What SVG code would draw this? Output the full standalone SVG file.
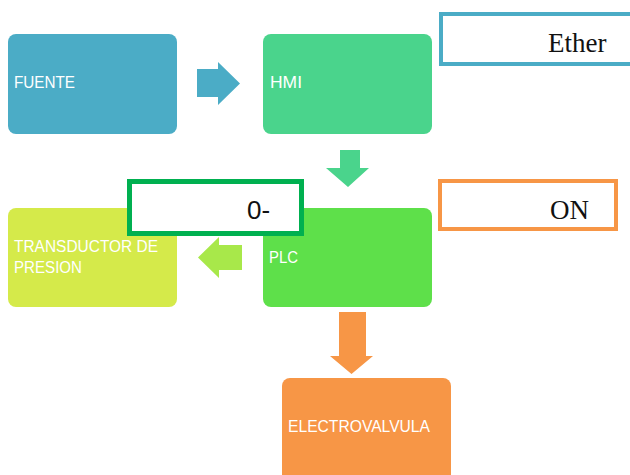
<svg xmlns="http://www.w3.org/2000/svg" width="630" height="475" viewBox="0 0 630 475">
<style>
.lbl{font-family:"Liberation Sans",Arial,sans-serif;font-size:16px;fill:#ffffff}
.ann{font-family:"Liberation Serif","Times New Roman",serif;font-size:27px;fill:#111111}
.box{fill:#ffffff;stroke-width:4}
</style>
<rect width="630" height="475" fill="#ffffff"/>
<g id="fuente"><rect x="8" y="34" width="169" height="100" rx="8" fill="#4BACC6"/><text class="lbl" x="14" y="88" textLength="61" lengthAdjust="spacingAndGlyphs">FUENTE</text></g>
<g id="hmi"><rect x="263" y="34" width="169" height="100" rx="8" fill="#4AD48C"/><text class="lbl" x="270" y="88" textLength="32" lengthAdjust="spacingAndGlyphs">HMI</text></g>
<g id="plc"><rect x="263" y="208" width="169" height="99" rx="8" fill="#5EE04A"/><text class="lbl" x="269" y="263" textLength="29" lengthAdjust="spacingAndGlyphs">PLC</text></g>
<g id="transductor"><rect x="8" y="208" width="169" height="99" rx="8" fill="#D5EA4A"/><text class="lbl" x="14" y="252" textLength="144" lengthAdjust="spacingAndGlyphs">TRANSDUCTOR DE</text><text class="lbl" x="14" y="273" textLength="68" lengthAdjust="spacingAndGlyphs">PRESION</text></g>
<g id="electrovalvula"><rect x="282" y="378" width="169" height="104" rx="8" fill="#F79646"/><text class="lbl" x="288" y="432" textLength="142" lengthAdjust="spacingAndGlyphs">ELECTROVALVULA</text></g>
<g id="connectors">
<polygon points="197,69 218,69 218,62 240,83.5 218,105 218,97 197,97" fill="#4BACC6"/>
<polygon points="340,150 360,150 360,168 369,168 348,187 326,168 340,168" fill="#4AD48C"/>
<polygon points="242,245 219,245 219,237 198,257.5 219,278 219,270 242,270" fill="#A8E84A"/>
<polygon points="339,312 366,312 366,356 373,356 351.5,374 330,356 339,356" fill="#F79646"/>
</g>
<g id="ether"><rect class="box" x="441" y="14" width="200" height="50" stroke="#4BACC6"/><text class="ann" x="548" y="52">Ether</text></g>
<g id="on"><rect class="box" x="440" y="181" width="176" height="48" stroke="#F79646"/><text class="ann" x="550" y="219">ON</text></g>
<g id="cero"><rect class="box" x="129.5" y="181.5" width="172" height="52" stroke="#00B050" style="stroke-width:5"/><text x="247" y="219" style="font-family:'Liberation Sans',Arial,sans-serif;font-size:26px;fill:#111111">0-</text></g>
</svg>
